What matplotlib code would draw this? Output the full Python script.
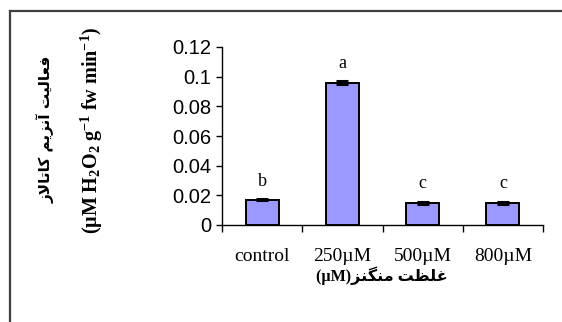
import matplotlib
matplotlib.use("Agg")
import matplotlib.pyplot as plt
from matplotlib.lines import Line2D

categories = ["control", "250µM", "500µM", "800µM"]
values = [0.017, 0.096, 0.015, 0.015]
errors = [0.0004, 0.0008, 0.0007, 0.0007]
letters = ["b", "a", "c", "c"]
yticks = [0, 0.02, 0.04, 0.06, 0.08, 0.1, 0.12]
ytick_labels = ["0", "0.02", "0.04", "0.06", "0.08", "0.1", "0.12"]
ylabel_fa = "فعالیت آنزیم کاتالاز"
ylabel_unit = r"$\mathbf{(\mu M\ H_2O_2\ g^{-1}\ fw\ min^{-1})}$"
xlabel_fa = "غلظت منگنز"
xlabel_unit = "(µM)"

# --- minimal Arabic/Persian shaping (presentation forms) ---
FORMS = {
    'ا': ('\uFE8D', '\uFE8E', None, None),
    'آ': ('\uFE81', '\uFE82', None, None),
    'ز': ('\uFEAF', '\uFEB0', None, None),
    'ت': ('\uFE95', '\uFE96', '\uFE97', '\uFE98'),
    'ظ': ('\uFEC5', '\uFEC6', '\uFEC7', '\uFEC8'),
    'ع': ('\uFEC9', '\uFECA', '\uFECB', '\uFECC'),
    'غ': ('\uFECD', '\uFECE', '\uFECF', '\uFED0'),
    'ف': ('\uFED1', '\uFED2', '\uFED3', '\uFED4'),
    'ل': ('\uFEDD', '\uFEDE', '\uFEDF', '\uFEE0'),
    'م': ('\uFEE1', '\uFEE2', '\uFEE3', '\uFEE4'),
    'ن': ('\uFEE5', '\uFEE6', '\uFEE7', '\uFEE8'),
    'ی': ('\uFBFC', '\uFBFD', '\uFBFE', '\uFBFF'),
    'ک': ('\uFB8E', '\uFB8F', '\uFB90', '\uFB91'),
    'گ': ('\uFB92', '\uFB93', '\uFB94', '\uFB95'),
    'لا': ('\uFEFB', '\uFEFC', None, None),
    'لآ': ('\uFEF5', '\uFEF6', None, None),
}


def shape(text):
    units = []
    i = 0
    while i < len(text):
        if text[i] == 'ل' and i + 1 < len(text) and text[i + 1] in 'اآ':
            units.append(text[i:i + 2])
            i += 2
        else:
            units.append(text[i])
            i += 1
    out = []
    for k, u in enumerate(units):
        if u not in FORMS:
            out.append(u)
            continue
        f = FORMS[u]
        prev = units[k - 1] if k > 0 else None
        nxt = units[k + 1] if k + 1 < len(units) else None
        join_prev = prev in FORMS and FORMS[prev][2] is not None
        join_next = f[2] is not None and nxt in FORMS
        if join_prev and join_next:
            out.append(f[3])
        elif join_prev:
            out.append(f[1])
        elif join_next:
            out.append(f[2])
        else:
            out.append(f[0])
    return ''.join(out)[::-1]


plt.rcParams['mathtext.fontset'] = 'custom'
plt.rcParams['mathtext.rm'] = 'Liberation Serif'
plt.rcParams['mathtext.bf'] = 'Liberation Serif:bold'
plt.rcParams['mathtext.it'] = 'Liberation Serif:italic'

W, H = 562, 322
fig = plt.figure(figsize=(W / 100, H / 100), dpi=100)
ax = fig.add_axes([222 / W, 1 - 225 / H, (543 - 222) / W, (225 - 47) / H])

x = list(range(len(categories)))
ax.bar(x, values, width=0.41, color='#9999FF', edgecolor='black', linewidth=1.4, zorder=2)
ax.errorbar(x, values, yerr=errors, fmt='none', ecolor='black', elinewidth=1.2,
            capsize=4.5, capthick=2.2, zorder=3)
for xi, v, e, t in zip(x, values, errors, letters):
    ax.text(xi, v + e + 0.0065, t, ha='center', va='bottom', fontsize=13,
            family='Liberation Serif')

ax.set_xlim(-0.5, len(categories) - 0.5)
ax.set_ylim(0, 0.12)
ax.set_yticks(yticks)
ax.set_yticklabels(ytick_labels, family='Liberation Sans', fontsize=14.5)
ax.set_xticks([i - 0.5 for i in range(len(categories) + 1)])
ax.set_xticklabels([])
ax.set_xticks(x, minor=True)
ax.set_xticklabels(categories, minor=True, family='Liberation Serif', fontsize=14)
ax.tick_params(axis='x', which='minor', length=0, pad=16.5)
ax.tick_params(axis='x', which='major', length=5, width=1, direction='out')
ax.tick_params(axis='y', length=4.5, width=1, direction='out', pad=3)
for s in ['top', 'right']:
    ax.spines[s].set_visible(False)
for s in ['left', 'bottom']:
    ax.spines[s].set_linewidth(1.0)

# x label: "(µM)" + Persian text
fig.text(382 / W, 1 - 276 / H, xlabel_unit + shape(xlabel_fa), ha='center', va='center',
         fontsize=11.5, fontweight='bold', family=['Liberation Serif', 'DejaVu Sans'])

# y labels
fig.text(46 / W, 1 - 129 / H, shape(ylabel_fa), rotation=90, ha='center', va='center',
         fontsize=11, fontweight='bold', family=['DejaVu Sans'])
fig.text(92 / W, 1 - 130 / H, ylabel_unit, rotation=90, ha='center', va='center',
         fontsize=14.5)

# outer frame (top and left)
fig.add_artist(Line2D([10 / W, 1.0], [1 - 11 / H, 1 - 11 / H], transform=fig.transFigure,
                      color='#404040', linewidth=1.6))
fig.add_artist(Line2D([10 / W, 10 / W], [1 - 11 / H, 0.0], transform=fig.transFigure,
                      color='#404040', linewidth=1.6))

fig.savefig('out.png', dpi=100, facecolor='white')
